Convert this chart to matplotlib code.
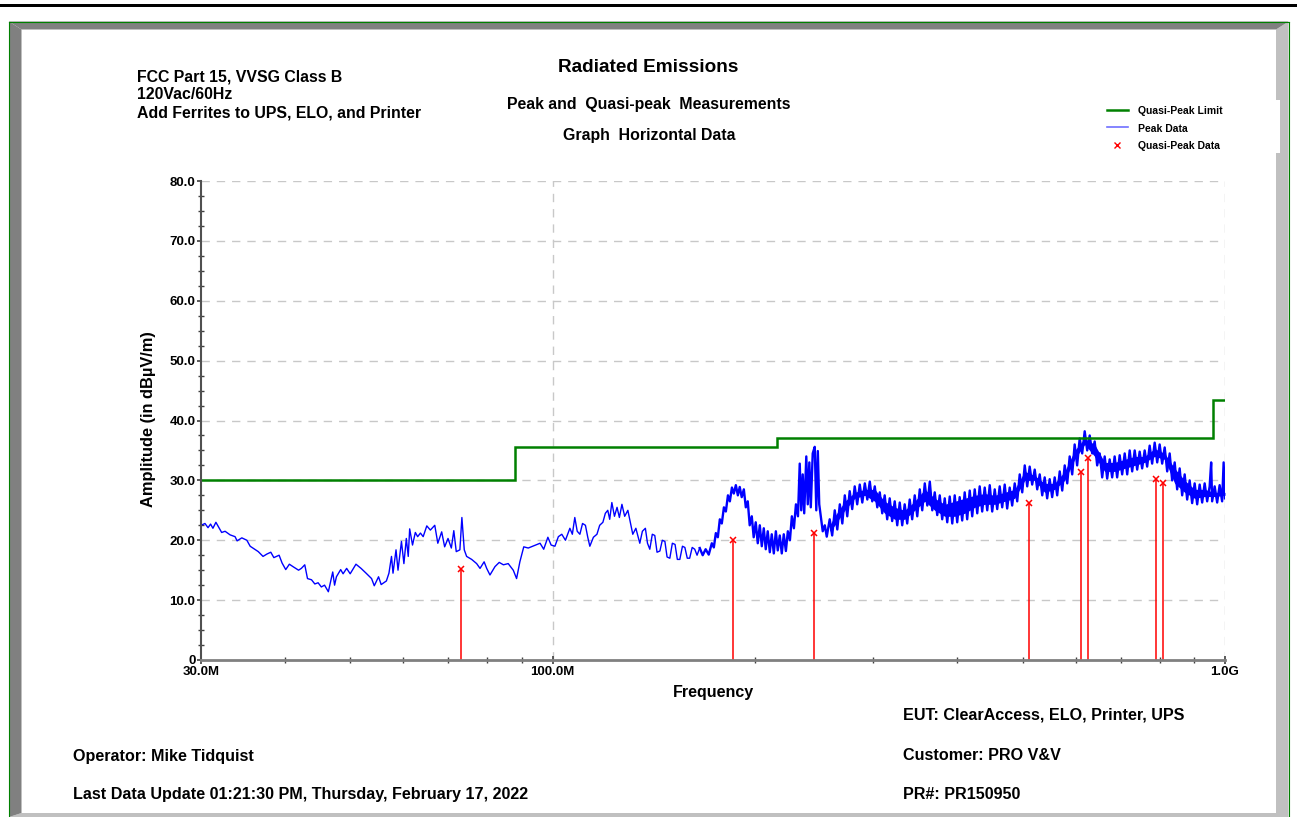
import matplotlib
matplotlib.use('Agg')
import matplotlib.pyplot as plt
from matplotlib.patches import Polygon
from matplotlib.lines import Line2D
from matplotlib.ticker import FixedLocator, NullFormatter

plt.rcParams['font.family'] = ['Liberation Sans', 'DejaVu Sans']
plt.rcParams['font.weight'] = 'bold'

# ---------------- data ----------------
limit_edges = [30, 88, 216, 960, 1000]          # MHz
limit_levels = [30.0, 35.5, 37.0, 43.5]         # dBuV/m

qp_freq = [73.1, 185.4, 244.6, 510.6, 610.1, 624.9, 788.7, 807.8]
qp_amp = [15.2, 20.0, 21.2, 26.2, 31.4, 33.7, 30.2, 29.6]

# peak trace, 30 - 92 MHz
peak_freq_low = [
    30.0, 30.41, 30.73, 31.0, 31.25, 31.57, 32.2, 32.58, 33.14, 33.71, 33.95, 34.5, 35.1, 35.5,
    36.5, 37.1, 37.6, 38.1, 38.5, 39.2, 39.6, 40.1, 40.6, 41.1, 41.9, 42.3, 42.8, 43.2, 43.8,
    44.3, 44.8, 45.3, 45.8, 46.4, 47.1, 47.4, 47.7, 48.4, 48.8, 49.4, 50.0, 51.0, 51.9, 52.8,
    53.8, 54.3, 55.1, 55.6, 56.6, 57.1, 57.6, 57.9, 58.5, 58.9, 59.6, 60.1, 60.6, 61.0, 61.3,
    61.9, 62.5, 63.0, 63.6, 64.2, 65.0, 65.8, 66.8, 67.5, 68.4, 69.1, 69.9, 70.7, 71.3, 71.9,
    72.8, 73.3, 73.9, 74.5, 75.8, 77.1, 78.0, 79.1, 79.8, 80.7, 82.1, 83.3, 84.5, 85.9, 87.4,
    88.4, 89.4, 90.6, 92.0,
]
peak_amp_low = [
    22.5, 22.8, 22.1, 22.7, 22.0, 23.0, 21.3, 21.5, 20.9, 20.6, 19.9, 20.4, 20.0, 19.0,
    18.1, 17.3, 17.7, 18.0, 17.1, 17.5, 16.2, 15.1, 16.0, 15.6, 15.0, 15.3, 15.9, 13.6, 13.4,
    12.7, 12.9, 12.2, 12.5, 11.4, 14.7, 12.5, 13.9, 15.1, 14.4, 15.3, 14.4, 16.0, 15.3, 14.5,
    13.6, 12.4, 13.9, 12.6, 13.2, 14.5, 17.3, 14.5, 18.4, 15.0, 19.8, 16.1, 20.3, 17.3, 21.9,
    19.2, 21.3, 20.6, 21.2, 20.6, 22.4, 21.7, 22.5, 19.5, 21.4, 18.9, 20.3, 18.7, 21.6, 18.1,
    18.4, 23.8, 18.4, 17.3, 16.8, 16.1, 15.3, 16.4, 15.3, 14.2, 15.6, 16.3, 15.9, 16.1, 15.0,
    13.6, 16.4, 18.9, 18.7,
]
# peak trace, 92 - 166 MHz
peak_freq_mid = [
    95.8, 97.0, 98.4, 99.5, 100.8, 102.0, 103.2, 104.5, 106.1, 107.0, 107.9, 108.8, 109.8,
    110.8, 111.9, 112.8, 113.6, 115.0, 116.4, 117.5, 118.8, 119.8, 120.8, 121.6, 122.5, 123.6,
    124.7, 125.7, 126.8, 128.0, 129.4, 130.5, 131.6, 133.0, 134.8, 136.0, 137.4, 138.4, 139.5,
    140.7, 141.9, 143.0, 144.4, 145.6, 146.9, 148.0, 149.4, 150.7, 152.1, 153.3, 154.6, 156.0,
    157.3, 158.6, 159.9, 161.3, 162.7, 164.0, 165.5,
]
peak_amp_mid = [
    19.5, 18.5, 20.5, 19.2, 19.0, 20.6, 21.0, 20.0, 22.0, 21.0, 23.8, 21.5, 21.0,
    22.8, 22.5, 20.5, 19.0, 20.5, 21.0, 22.5, 23.0, 24.5, 25.0, 23.5, 26.3, 24.0,
    25.5, 23.8, 26.0, 24.0, 25.0, 23.0, 21.0, 22.0, 19.5, 21.5, 22.0, 19.5, 18.5,
    21.0, 20.8, 18.0, 18.2, 20.0, 19.8, 17.2, 17.0, 19.5, 19.3, 16.8, 16.8, 19.0,
    18.8, 17.0, 17.0, 18.8, 18.5, 17.5, 18.7,
]
# peak trace, 166 - 256 MHz (dense, spiky)
peak_freq_hi1 = [
    165.5, 167.2, 168.9, 170.7, 172.5, 173.7, 174.9, 176.1, 177.3, 178.5, 179.8, 181.0, 182.3,
    183.5, 184.8, 186.0, 187.3, 188.6, 189.8, 191.1, 192.5, 193.8, 195.1, 196.4, 197.8, 199.1,
    200.5, 201.9, 203.3, 204.7, 206.1, 207.5, 208.9, 210.4, 211.8, 213.3, 214.8, 216.2, 217.7,
    219.2, 220.7, 222.3, 223.8, 225.4, 226.9, 228.5, 230.1, 231.7, 233.1, 234.3, 235.5, 236.7,
    238.4, 239.6, 240.9, 242.1, 243.7, 245.4, 246.7, 248.0, 249.2, 250.5, 252.2, 254.0, 255.7,
]
peak_amp_hi1 = [
    18.7, 17.5, 18.5, 17.6, 19.5, 18.8, 21.2, 20.5, 23.5, 22.8, 25.5, 24.8, 27.5,
    26.5, 28.8, 27.8, 29.2, 27.5, 28.9, 27.2, 28.5, 25.5, 26.5, 22.5, 24.0, 20.5,
    23.0, 19.5, 22.5, 19.0, 22.0, 18.5, 21.5, 18.0, 21.0, 17.8, 21.5, 18.3, 20.8,
    17.8, 21.0, 18.2, 21.5, 20.0, 24.0, 22.0, 26.0, 24.0, 32.8, 25.0, 31.0, 24.5,
    34.0, 26.0, 33.0, 25.5, 34.5, 35.6, 25.0, 34.9, 26.0, 24.0, 21.5, 22.5, 20.6,
]
# peak trace, 256 - 1000 MHz (noise band: alternating upper / lower excursions)
peak_freq_hi2 = [
    258.3, 260.5, 262.8, 265.1, 267.4, 269.7, 272.0, 274.3, 276.6, 279.0, 281.4, 283.8,
    286.3, 288.8, 291.3, 293.8, 296.3, 298.8, 301.4, 304.0, 306.6, 309.2, 311.8, 314.5,
    317.2, 319.9, 322.7, 325.5, 328.3, 331.1, 333.9, 336.8, 339.7, 342.6, 345.6, 348.6,
    351.6, 354.6, 357.7, 360.8, 363.9, 367.0, 370.1, 373.3, 376.5, 379.7, 383.0, 386.3,
    389.6, 393.0, 396.3, 399.7, 403.1, 406.6, 410.1, 413.6, 417.2, 420.8, 424.4, 428.1,
    431.7, 435.4, 439.2, 443.0, 446.8, 450.6, 454.5, 458.4, 462.3, 466.3, 470.3, 474.3,
    478.4, 482.5, 486.7, 490.9, 495.1, 499.4, 503.7, 508.0, 512.3, 516.7, 521.2, 525.7,
    530.2, 534.8, 539.3, 543.9, 548.6, 553.3, 558.1, 562.9, 567.8, 572.7, 577.6, 582.6,
    587.5, 592.6, 597.6, 602.7, 608.0, 613.2, 618.5, 623.8, 629.2, 634.6, 640.0, 645.5,
    651.1, 656.7, 662.3, 668.0, 673.7, 679.5, 685.3, 691.2, 697.2, 703.2, 709.3, 715.4,
    721.5, 727.7, 734.0, 740.3, 746.6, 753.0, 759.5, 766.0, 772.6, 779.2, 786.0, 792.8,
    799.5, 806.4, 813.4, 820.4, 827.4, 834.5, 841.7, 848.9, 856.2, 863.6, 871.0, 878.5,
    886.0, 893.6, 901.3, 909.1, 916.9, 924.8, 932.7, 940.7, 948.8, 953.7, 956.9, 965.2,
    973.5, 981.8, 990.2, 995.3, 1000.0,
]
peak_amp_hi2 = [
    23.5, 20.8, 25.0, 21.8, 26.0, 22.8, 27.5, 24.0, 28.2, 25.2, 29.0, 26.0,
    29.3, 26.3, 29.5, 26.8, 29.8, 26.5, 29.0, 25.5, 28.0, 24.5, 27.5, 23.5,
    27.0, 23.2, 26.5, 22.5, 26.3, 22.5, 26.0, 22.8, 26.8, 23.5, 27.5, 24.0,
    28.5, 25.0, 29.5, 25.8, 29.8, 25.0, 28.0, 24.2, 27.5, 23.5, 27.0, 23.0,
    27.3, 22.8, 27.5, 23.0, 27.2, 23.3, 28.0, 23.5, 28.3, 24.0, 28.5, 24.5,
    29.0, 24.8, 28.8, 25.0, 29.2, 24.8, 28.5, 25.2, 29.0, 25.5, 29.3, 25.3,
    28.8, 25.8, 29.5, 26.5, 31.0, 28.0, 32.5, 29.0, 32.3, 29.3, 31.8, 28.5,
    31.0, 27.5, 30.5, 27.0, 30.2, 27.2, 30.5, 27.5, 31.5, 28.3, 32.5, 29.5,
    34.0, 31.0, 36.0, 32.5, 37.0, 34.5, 38.2, 35.0, 37.5, 34.5, 36.5, 32.5,
    34.5, 30.5, 34.0, 30.3, 33.5, 30.5, 34.0, 30.5, 34.2, 31.0, 34.5, 31.0,
    35.0, 31.5, 35.0, 31.8, 34.8, 32.0, 35.0, 32.3, 35.8, 32.8, 36.3, 33.0,
    36.0, 32.8, 35.5, 31.5, 34.5, 30.0, 33.0, 28.5, 32.0, 27.5, 31.0, 26.8,
    30.0, 26.2, 29.5, 26.0, 29.3, 26.3, 29.5, 26.5, 29.0, 33.0, 26.5, 29.0,
    26.3, 29.2, 26.5, 33.0, 27.0,
]
# solid core of the dense noise band (256 - 1000 MHz)
core_freq = [258.3, 262.8, 272.0, 281.4, 291.3, 301.4, 311.8, 322.7, 333.9, 345.6, 357.7,
             370.1, 383.0, 396.3, 410.1, 424.4, 439.2, 454.5, 470.3, 486.7, 503.7, 521.2,
             539.3, 558.1, 577.6, 597.6, 618.5, 640.0, 662.3, 685.3, 709.3, 734.0, 759.5,
             786.0, 813.4, 841.7, 871.0, 901.3, 932.7, 965.1, 1000.0]
core_low = [21.5, 22.5, 25.0, 27.0, 27.5, 26.5, 24.5, 23.5, 23.5, 25.0, 26.5,
            25.0, 24.0, 24.0, 24.5, 25.5, 26.0, 26.0, 26.5, 27.0, 30.0, 30.0,
            28.0, 28.5, 30.0, 33.5, 36.0, 34.0, 31.5, 31.5, 32.0, 32.5, 33.0,
            34.0, 33.5, 29.5, 28.0, 27.0, 27.3, 27.3, 27.5]
core_high = [22.5, 24.0, 26.5, 28.0, 28.5, 28.5, 26.5, 25.5, 25.0, 26.5, 28.5,
             27.0, 26.0, 26.5, 27.0, 27.5, 27.8, 27.5, 28.0, 28.5, 31.5, 30.8,
             29.5, 29.5, 31.5, 35.0, 37.0, 36.0, 33.0, 33.0, 33.5, 34.0, 34.0,
             35.3, 34.5, 32.0, 30.0, 28.5, 28.5, 28.0, 28.0]

y_ticks = [0, 10, 20, 30, 40, 50, 60, 70, 80]
y_tick_labels = ['0', '10.0', '20.0', '30.0', '40.0', '50.0', '60.0', '70.0', '80.0']
x_ticks = [30, 100, 1000]
x_tick_labels = ['30.0M', '100.0M', '1.0G']
x_minor = [40, 50, 60, 70, 80, 90, 200, 300, 400, 500, 600, 700, 800, 900]

# ---------------- figure ----------------
W, H = 1300, 817
fig = plt.figure(figsize=(13, 8.17), dpi=100, facecolor='white')


def fx(x):
    return x / W


def fy(y):
    return 1 - y / H


def poly(pts, color, z=1):
    fig.patches.append(Polygon([(fx(x), fy(y)) for x, y in pts], closed=True,
                               facecolor=color, edgecolor='none',
                               transform=fig.transFigure, zorder=z))


# frame
poly([(0, 4), (1297, 4), (1297, 6.5), (0, 6.5)], 'black')
poly([(1276, 29.5), (1288.5, 21.5), (1288.5, 817), (1276, 817)], '#c0c0c0')
poly([(9, 817), (21.5, 813), (1276, 813), (1288.5, 817)], '#c0c0c0')
poly([(9, 21.5), (1288.5, 21.5), (1276, 29.5), (21.5, 29.5)], '#808080', 2)
poly([(9, 21.5), (21.5, 29.5), (21.5, 813), (9, 817)], '#808080', 2)
for xs, ys in [([8.5, 8.5], [21.5, 817]), ([8.5, 1288.5], [21.5, 21.5]),
               ([1288.5, 1288.5], [21.5, 817])]:
    fig.add_artist(Line2D([fx(v) for v in xs], [fy(v) for v in ys], color='#008000',
                          lw=0.8, transform=fig.transFigure, zorder=3))
poly([(1095, 100), (1280, 100), (1280, 153), (1095, 153)], 'white', 4)

# axes
ax = fig.add_axes([fx(201), fy(660), (1225 - 201) / W, (660 - 181) / H])
ax.set_facecolor('none')
ax.set_xscale('log')
ax.set_xlim(30, 1000)
ax.set_ylim(0, 80)

grid_kw = dict(color='#c8c8c8', lw=1.0, ls=(0, (6, 5)), zorder=1)
for v in y_ticks[1:]:
    ax.axhline(v, **grid_kw)
for v in [100, 1000]:
    ax.axvline(v, **grid_kw)

ax.stairs(limit_levels, limit_edges, color='#008000', lw=1.8, baseline=None, zorder=4)
ax.plot(peak_freq_low + peak_freq_mid + peak_freq_hi1[:1],
        peak_amp_low + peak_amp_mid + peak_amp_hi1[:1],
        color='#0000ff', lw=1.0, zorder=3)
ax.fill_between(core_freq, core_low, core_high, color='#0000ff', lw=0, zorder=3)
ax.plot(peak_freq_hi1 + peak_freq_hi2, peak_amp_hi1 + peak_amp_hi2,
        color='#0000ff', lw=1.7, zorder=3)
ax.vlines(qp_freq, 0, qp_amp, colors='#ff0000', lw=1.1, zorder=5)
ax.plot(qp_freq, qp_amp, ls='none', marker='x', color='#ff0000', ms=4.5, mew=1.1, zorder=6)

for s in ['top', 'right']:
    ax.spines[s].set_visible(False)
ax.spines['left'].set_color('#505050')
ax.spines['left'].set_linewidth(1.5)
ax.spines['bottom'].set_color('#808080')
ax.spines['bottom'].set_linewidth(2.0)
ax.spines['left'].set_zorder(7)
ax.spines['bottom'].set_zorder(7)

ax.set_yticks(y_ticks)
ax.set_yticklabels(y_tick_labels)
ax.yaxis.set_minor_locator(FixedLocator([v + d for v in y_ticks[:-1] for d in (2.5, 5, 7.5)]))
ax.set_xticks(x_ticks)
ax.set_xticklabels(x_tick_labels)
ax.xaxis.set_minor_locator(FixedLocator(x_minor))
ax.xaxis.set_minor_formatter(NullFormatter())

ax.tick_params(axis='y', which='major', direction='out', length=3, width=1.2, color='#404040',
               pad=1, labelsize=9.5)
ax.tick_params(axis='y', which='minor', direction='inout', length=4, width=1.0, color='#404040')
ax.tick_params(axis='x', which='major', direction='inout', length=6, width=1.2, color='#404040',
               pad=1, labelsize=9.5)
ax.tick_params(axis='x', which='minor', direction='inout', length=5, width=1.0, color='#404040')
for lab in ax.get_xticklabels() + ax.get_yticklabels():
    lab.set_fontweight('bold')


# texts
def txt(x, y, s, size, ha='left', **kw):
    fig.text(fx(x), fy(y), s, fontsize=size, fontweight='bold', ha=ha, va='baseline', **kw)


txt(137, 81.5, 'FCC Part 15, VVSG Class B', 11.4)
txt(137, 99, '120Vac/60Hz', 11.4)
txt(137, 117, 'Add Ferrites to UPS, ELO, and Printer', 11.4)
txt(648, 72, 'Radiated Emissions', 13.7, ha='center')
txt(649, 109, 'Peak and  Quasi-peak  Measurements', 11.4, ha='center')
txt(649, 140, 'Graph  Horizontal Data', 11.4, ha='center')

txt(713, 697, 'Frequency', 11.5, ha='center')
fig.text(fx(149), fy(419), 'Amplitude (in dBµV/m)', fontsize=11.8, fontweight='bold',
         rotation=90, ha='center', va='center')

txt(903, 720, 'EUT: ClearAccess, ELO, Printer, UPS', 11.6)
txt(903, 760, 'Customer: PRO V&V', 11.6)
txt(903, 799, 'PR#: PR150950', 11.6)
txt(73, 761, 'Operator: Mike Tidquist', 11.6)
txt(73, 798.5, 'Last Data Update 01:21:30 PM, Thursday, February 17, 2022', 11.6)

# legend (drawn in figure pixels)
leg_items = [('Quasi-Peak Limit', 'line', '#008000', 1.8),
             ('Peak Data', 'line', '#7070ff', 1.2),
             ('Quasi-Peak Data', 'x', '#ff0000', 1.0)]
for i, (lab, kind, col, lw) in enumerate(leg_items):
    yc = [109.5, 127, 144.5][i]
    if kind == 'line':
        fig.add_artist(Line2D([fx(1107), fx(1128)], [fy(yc), fy(yc)], color=col, lw=lw,
                              transform=fig.transFigure, zorder=6))
    else:
        fig.add_artist(Line2D([fx(1117)], [fy(yc)], ls='none', marker='x', color=col, ms=4,
                              mew=lw, transform=fig.transFigure, zorder=6))
    fig.text(fx(1138), fy(yc + 4.5), lab, fontsize=7.5, fontweight='bold', ha='left',
             va='baseline', zorder=6)

fig.savefig('out.png', dpi=100, facecolor='white')
